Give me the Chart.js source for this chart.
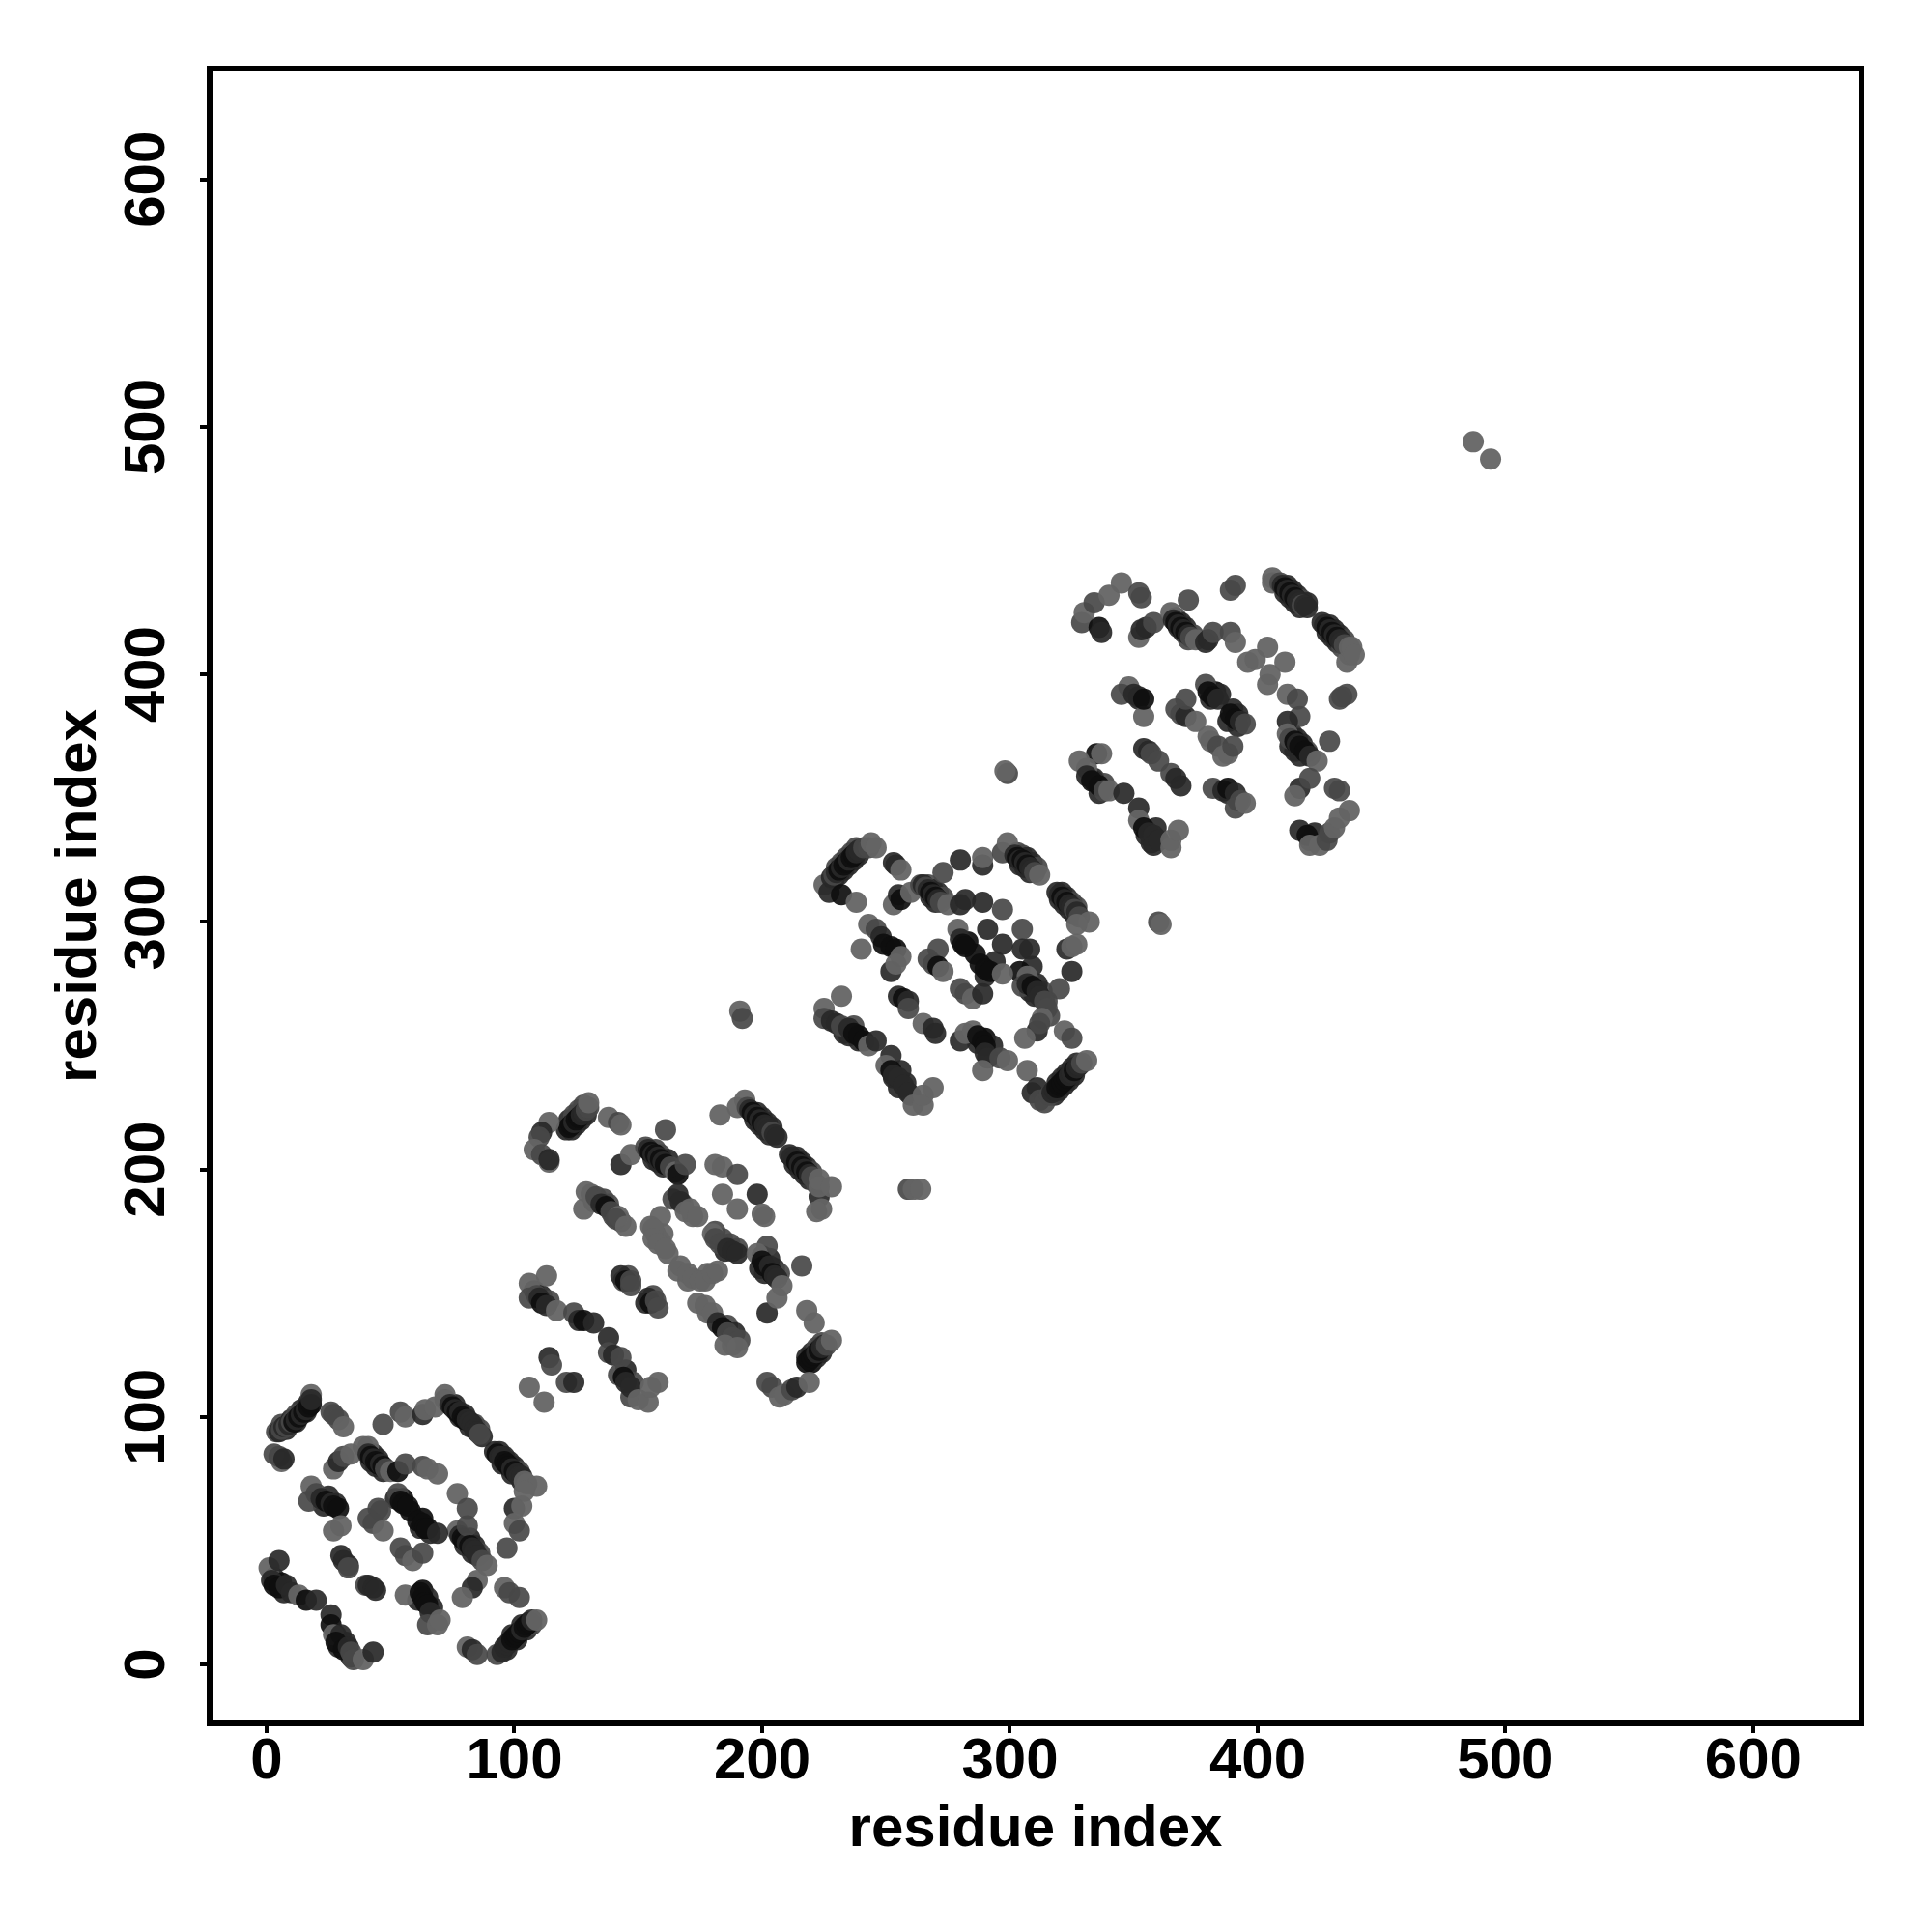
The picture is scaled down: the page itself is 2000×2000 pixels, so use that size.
<!DOCTYPE html>
<html>
<head>
<meta charset="utf-8">
<script src="https://cdn.jsdelivr.net/npm/chart.js@4"></script>
<style>
body { margin: 0; background: #fff; }
canvas { display: block; }
</style>
</head>
<body>
<canvas id="grafico" width="2000" height="2000"></canvas>
<script>
var tickValues = [0, 100, 200, 300, 400, 500, 600];
var axisLabel = "residue index";

// each contact: [residue i, residue j, shade] (0 = darkest, 3 = lightest), in drawing order
var block1 = [
  [18,109,3],[4,94,2],[5,94,1],[6,95,2],[7,96,1],[8,96,2],[9,97,1],[10,98,2],[11,98,0],[12,99,1],[13,100,0],[14,101,1],[15,102,0],[16,103,1],[17,104,0],[18,105,0],[18,107,1],
  [26,102,2],[27,101,2],[29,99,2],[31,96,3],[3,85,2],[6,82,3],[5,84,2],[7,83,1],[47,97,2],[54,102,2],[56,100,3],
  [63,101,1],[64,103,3],[68,104,3],[72,109,3],[72,107,3],[74,105,1],[75,104,0],[76,103,1],[77,102,0],[78,102,1],[79,100,0],[80,99,0],[81,99,1],[82,98,1],[83,97,1],[84,95,1],[85,94,1],[86,93,2],
  [92,86,1],[93,85,0],[94,84,1],[95,84,1],[96,82,0],[97,81,0],[98,80,0],[99,79,1],[100,78,0],[101,77,1],[102,76,1],[103,76,1],[104,74,3],[105,73,3],[109,72,3],[104,70,3],[100,63,1],[103,64,3],[100,57,3],[102,54,2],[97,47,2],
  [27,79,3],[29,82,1],[31,84,2],[34,85,3],[39,88,3],[41,88,3],[41,85,1],[42,84,0],[43,83,1],[44,82,0],[45,81,0],[46,81,1],[47,80,0],[48,79,2],[50,78,3],[53,78,0],[56,81,2],[63,80,2],[65,79,3],[69,77,3],
  [77,69,3],[81,63,2],[77,54,3],[78,52,1],[79,51,0],[80,50,0],[81,49,1],[81,56,2],[82,48,0],[83,47,1],[84,46,1],[85,44,1],[87,42,2],[89,40,3],[85,34,3],[83,31,1],[79,27,3],[96,31,3],[98,29,2],[102,27,2],
  [93,4,2],[95,5,1],[96,7,1],[97,8,1],[98,9,1],[99,10,0],[100,11,0],[101,12,0],[102,13,0],[103,14,1],[104,15,0],[105,16,0],[106,17,0],[107,18,1],[109,18,3],[81,7,3],[83,6,1],[85,4,2],
  [18,72,3],[17,66,2],[20,69,2],[22,67,1],[24,66,0],[26,65,1],[27,64,0],[29,63,0],[27,54,3],[30,56,3],
  [41,59,2],[45,63,2],[46,62,2],[43,57,2],[47,54,3],[53,69,2],[54,66,0],[55,65,0],[57,64,0],[61,58,0],[63,57,0],[64,55,0],[65,55,0],[69,53,1],[54,47,2],[56,44,2],[59,42,3],[63,45,2],
  [1,39,3],[5,42,1],[2,34,1],[3,32,0],[5,31,0],[8,32,1],[10,29,1],[13,28,3],[16,26,0],[20,26,1],
  [26,20,1],[26,16,0],[27,12,3],[30,12,1],[28,9,0],[31,6,0],[33,7,1],[34,5,2],[35,2,2],[39,2,3],[43,5,1],
  [30,44,1],[31,42,1],[33,40,1],[33,39,2],[40,32,2],[41,32,1],[43,31,1],[44,30,1],[56,28,3],[62,29,0],[63,27,0],[64,25,0],[65,24,0],[66,21,1],[65,16,2],[69,16,3],[70,18,3]
];

var block2 = [
  [121,216,1],[122,217,0],[123,218,0],[124,219,1],[125,220,0],[126,221,0],[127,222,1],[128,223,1],[129,224,2],[130,225,2],[130,227,3],
  [114,219,3],[111,215,1],[110,213,2],[108,208,3],[111,206,2],[114,203,3],[114,204,1],[138,221,3],[142,219,2],[143,218,3],[161,216,2],
  [143,202,1],[147,206,3],[153,209,2],[154,208,1],[155,207,0],[156,206,1],[157,206,0],[158,205,1],[159,204,0],[160,203,1],[161,202,0],[163,201,2],[165,199,3],[166,198,0],[169,202,2],
  [181,202,3],[184,201,3],[190,198,2],[184,190,3],[198,190,1],[190,184,3],[200,182,3],[201,181,3],
  [183,222,3],[190,225,3],[193,228,3],[194,225,2],[195,224,1],[196,223,0],[197,222,1],[198,221,0],[199,220,1],[200,219,0],[201,218,1],[202,217,1],[203,216,1],[204,215,2],[205,214,1],[206,213,1],
  [211,206,1],[212,205,1],[213,204,1],[214,203,0],[215,202,1],[216,201,0],[217,200,1],[218,199,0],[219,198,1],[220,197,2],[223,189,1],[223,196,3],[223,193,3],[228,193,3],[222,183,3],[224,184,3],
  [129,191,3],[128,184,3],[131,190,3],[133,189,2],[135,186,1],[137,185,0],[139,183,2],[142,181,3],[141,180,2],[145,177,3],
  [166,190,1],[167,187,1],[169,183,3],[171,184,3],[174,181,3],[159,181,3],[156,176,3],[156,172,3],[158,170,3],[161,168,3],
  [180,174,3],[181,172,2],[183,170,2],[186,168,1],[188,167,1],[190,166,1],[167,161,3],[170,158,3],[172,156,3],[175,155,3],[177,155,3],[180,158,3],[182,159,3],
  [202,169,2],[198,166,3],[199,160,1],[200,163,0],[201,161,0],[203,161,1],[204,158,0],[205,157,1],[206,156,1],[208,153,3],[216,161,2],[202,142,1],[206,148,3],[218,143,3],[221,138,3],
  [218,122,0],[219,123,0],[220,124,0],[221,125,0],[222,126,1],[223,127,0],[224,128,1],[225,129,1],[226,129,2],[228,131,3],
  [202,114,2],[204,112,2],[207,108,3],[209,109,3],[212,111,2],[214,112,1],[219,114,3],
  [143,157,1],[145,155,0],[147,155,2],[147,153,2],[154,148,1],[155,146,0],[157,147,2],[158,144,2],
  [174,146,3],[177,145,3],[180,142,3],[182,138,1],[184,136,0],[186,134,2],[188,132,2],[191,131,2],[185,129,3],[190,128,3],
  [106,154,3],[106,148,2],[113,157,3],[109,149,2],[110,148,1],[111,146,0],[113,145,1],[117,143,3],[124,142,2],[126,139,1],[128,139,0],[132,138,1],
  [138,132,1],[138,126,2],[140,125,1],[143,124,2],[142,117,2],[144,116,0],[145,114,1],[147,112,1],[150,107,3],[154,106,3],[155,112,3],[158,114,3],
  [114,124,1],[115,121,2],[121,114,2],[124,114,1],[106,112,3],[112,106,3]
];

var block3 = [
  [225,315,3],[227,312,1],[228,318,1],[229,319,2],[230,320,1],[231,321,0],[232,311,0],[232,322,1],[233,323,0],[234,324,0],[235,325,1],[236,326,0],[237,327,0],[238,328,1],[239,329,1],[238,308,3],[241,330,2],[243,330,2],[244,332,3],[246,330,3],
  [253,324,1],[254,323,1],[256,321,3],[273,320,2],[280,325,1],[289,323,1],[289,326,3],[297,328,2],[299,332,3],
  [302,327,1],[303,326,0],[304,325,1],[305,325,0],[306,324,1],[307,323,0],[308,322,1],[309,321,1],[310,320,2],[312,319,3],
  [319,312,1],[320,311,1],[321,310,0],[322,309,1],[323,308,0],[324,307,1],[325,306,1],[326,305,2],[327,304,1],[328,302,2],[332,300,3],[327,299,3],[323,289,1],[325,290,3],[327,291,3],[325,280,1],[320,273,2],
  [253,307,3],[255,311,1],[256,309,0],[260,312,3],[264,315,2],[265,315,1],[266,314,2],[267,313,1],[268,312,0],[269,311,1],[270,310,0],[271,309,1],[272,308,2],[275,307,3],[280,307,1],[282,309,1],
  [289,308,1],[297,305,2],[291,297,1],[297,291,1],[305,297,2],[305,289,1],[308,289,1],[309,282,1],[304,280,0],
  [279,297,3],[280,293,1],[281,291,0],[282,290,0],[288,283,0],[290,281,0],[292,280,0],[297,279,3],
  [271,289,2],[267,285,2],[269,283,2],[271,282,0],[273,280,3],[280,273,2],[282,271,2],[285,269,3],[289,271,1],
  [307,278,3],[305,274,2],[307,275,1],[309,274,0],[311,272,1],[312,270,1],[314,268,2],[315,265,2],[313,261,3],[311,256,1],[306,253,3],[312,259,2],[322,256,3],[325,253,2],
  [243,299,3],[246,297,2],[248,294,1],[249,291,0],[252,290,0],[254,289,0],[240,289,3],[256,286,3],[252,280,1],[254,283,3],
  [255,270,1],[257,269,0],[259,268,1],[259,265,2],[265,259,3],[269,257,1],[270,255,1],
  [232,270,3],[225,265,3],[225,261,2],[228,260,1],[230,259,1],[232,258,2],[235,257,1],[237,255,0],[239,254,0],[241,252,0],[243,250,3],[246,252,1],
  [252,246,1],[250,242,3],[252,240,0],[253,238,1],[255,237,1],[257,234,1],[259,231,1],[261,226,3],[265,226,3],[265,230,3],[269,233,3],
  [280,252,1],[282,255,3],[285,256,3],[287,254,0],[289,252,0],[290,250,0],[290,247,1],[291,245,1],[296,245,2],[299,244,3],[289,240,3],
  [307,240,3],[309,231,1],[311,233,1],[314,227,2],[312,228,2],[316,230,2],[317,231,1],[318,232,1],[319,233,0],[320,234,0],[321,235,0],[322,236,0],[323,237,0],[324,238,1],[325,239,1],[326,240,0],[327,241,1],[328,242,1],[329,243,2],[331,244,3]
];

var block4 = [
  [329,421,2],[330,425,3],[334,429,2],[336,419,0],[337,417,1],[340,432,3],[345,437,3],[352,433,2],[353,431,2],[372,430,2],[391,436,2],[389,434,2],
  [406,439,3],[406,437,3],[409,437,2],[410,436,1],[411,435,0],[412,434,1],[413,433,0],[414,432,1],[415,431,0],[416,430,1],[417,429,1],[418,428,2],[419,428,1],[420,427,1],
  [426,421,1],[427,420,1],[428,419,0],[429,418,1],[430,417,0],[431,416,1],[432,415,0],[433,414,1],[434,413,1],[435,412,2],[436,405,3],[437,411,3],[438,411,3],[439,408,3],
  [352,415,3],[353,418,1],[355,419,1],[358,421,2],[365,425,3],[366,422,1],[367,421,0],[368,420,1],[369,419,0],[370,418,1],[371,417,0],[372,416,1],[373,415,2],[375,414,3],[379,413,1],[380,414,1],[382,417,2],[389,417,2],[391,413,3],
  [396,405,3],[399,406,3],[404,411,3],[411,405,3],[404,396,3],[405,400,3],
  [348,395,3],[345,392,2],[350,392,1],[352,391,1],[354,383,3],[354,390,0],[367,386,2],[369,384,2],[371,383,1],[371,390,2],[375,381,3],
  [379,396,2],[380,393,0],[382,391,0],[384,390,1],[389,384,0],[391,382,0],[393,381,1],[395,380,2],
  [412,392,3],[416,390,2],[417,383,2],[412,381,1],[412,376,3],[413,374,2],[415,373,0],[416,372,1],[417,371,0],[419,369,0],[421,367,1],[424,365,3],[429,373,2],[433,390,2],[436,392,2],[434,391,2],
  [380,375,3],[381,373,3],[384,371,2],[386,367,3],[388,368,3],[390,371,2],
  [417,354,1],[421,358,2],[415,351,3],[431,354,2],[433,353,2],
  [354,370,1],[356,369,1],[357,368,2],[360,365,2],[365,360,2],[367,358,1],[369,355,1],
  [335,368,0],[337,368,3],[328,365,3],[331,362,3],[331,359,1],[333,357,0],[336,355,0],[338,353,2],[340,353,3],[346,352,1],
  [352,346,1],[352,341,3],[354,338,0],[356,336,1],[358,335,1],[358,331,1],[360,333,1],[365,330,3],[365,333,3],[368,337,3],
  [382,354,2],[386,353,1],[388,354,0],[391,352,1],[391,346,2],[393,349,2],[395,348,3],
  [417,337,1],[420,335,0],[421,331,3],[425,331,3],[428,333,2],[429,336,2],[431,338,3],[433,342,3],[437,345,3]
];

var isolated = [
  [299,360,2],[298,361,3],[360,300,2],[361,299,3],[191,264,3],[192,261,2],[259,192,2],[261,192,3],[264,192,3],[487,494,3],[494,487,3]
];

// contacts that sit beside the main strands and show only at their edges
var strandEdges = [
  [6,97,2],[8,95,1],[10,99,1],[12,98,1],[14,103,1],[16,102,1],[12,101,2],[17,106,1],
  [76,105,1],[78,100,1],[80,101,1],[82,96,1],[84,97,2],[86,95,2],[87,92,1],
  [94,86,1],[96,84,1],[95,81,1],[98,82,1],[100,80,1],[99,77,1],[102,78,2],[103,74,1],
  [43,85,1],[42,82,1],[45,83,1],[47,78,1],[44,80,1],
  [97,6,1],[99,12,1],[101,10,1],[103,16,1],[105,14,1],[107,16,2],
  [80,48,1],[82,51,1],[84,48,1],[83,45,1],[86,45,2],
  [25,68,1],[28,65,1],[23,64,1],[63,59,0],[66,53,1],[62,55,1],[55,67,0],[58,62,0],[52,67,1],
  [63,30,0],[65,27,1],[61,26,1],[67,23,1],[3,35,1],[7,29,1],[6,33,0],[28,12,1],[32,9,1],[29,7,1],[34,3,1],
  [123,216,1],[125,218,1],[127,220,1],[129,222,1],[122,220,1],[124,222,2],[126,224,2],[128,226,2],
  [197,220,1],[199,218,1],[201,216,1],[203,214,1],[198,223,1],[200,221,1],[202,219,1],[204,217,1],
  [213,202,1],[215,200,1],[217,198,1],[219,196,1],[214,205,1],[216,203,1],[218,201,1],[220,199,2],[222,194,2],
  [156,204,1],[158,203,1],[160,201,1],[157,208,2],[159,206,2],[162,204,1],
  [218,124,1],[220,122,0],[222,124,1],[224,126,1],[220,126,1],[222,128,2],[224,130,2],
  [155,177,3],[157,174,3],[160,174,3],[159,171,3],[162,166,3],[170,155,3],[166,159,3],[178,158,3],[168,186,3],[172,181,3],[164,188,2],
  [136,188,2],[138,186,2],[140,181,2],[143,179,2],[132,187,2],
  [181,175,2],[184,172,2],[187,170,2],[190,168,2],[185,167,1],
  [200,165,1],[203,164,1],[205,160,1],[207,158,2],[201,158,1],
  [144,155,2],[146,157,2],[156,149,2],[153,146,1],[145,119,1],[148,114,2],[147,108,2],[108,151,2],[111,149,1],[114,147,2],[178,142,3],[186,137,2],[189,134,1],[188,129,3],
  [229,317,1],[231,319,1],[233,321,1],[235,323,1],[237,325,1],[239,327,1],[230,322,2],[232,324,2],[234,326,2],[236,328,2],[238,330,2],
  [304,323,1],[306,322,1],[308,320,1],[303,328,2],[305,327,2],[307,326,1],[309,324,1],[311,322,2],
  [320,309,1],[322,307,1],[324,305,1],[326,303,1],[321,312,1],[323,310,1],[325,308,2],[327,306,2],
  [268,310,1],[270,308,1],[267,315,2],[269,313,1],[271,312,1],[273,310,2],
  [318,230,1],[320,232,1],[322,234,1],[324,236,1],[326,238,1],[319,235,1],[321,237,1],[323,239,1],[325,241,1],[327,243,1],
  [239,252,1],[237,258,2],[233,255,1],[235,254,1],[253,237,1],[256,240,1],[258,235,1],[255,233,1],[260,230,1],
  [290,253,0],[287,251,1],[293,250,1],[283,292,0],[286,287,0],[290,278,1],[294,284,1],
  [310,270,1],[313,272,2],[308,272,1],[315,268,2],[316,262,2],[311,275,1],
  [411,433,1],[413,431,1],[415,429,1],[417,427,1],[412,436,1],[414,434,1],[416,432,1],[418,430,2],[420,429,1],
  [428,417,1],[430,415,1],[432,413,1],[434,411,2],[429,420,1],[431,418,1],[433,416,1],[435,414,2],[437,408,3],
  [368,419,1],[370,417,1],[372,414,2],[367,423,2],[369,421,1],[371,419,1],[374,416,2],
  [413,371,1],[415,369,1],[417,367,1],[414,376,1],[416,374,1],[418,372,1],[420,369,2],
  [383,393,0],[385,392,1],[381,390,1],[390,386,1],[392,384,1],[388,381,1],[392,379,1],
  [334,358,1],[336,352,1],[338,356,2],[355,335,1],[359,338,1],[357,332,1],[334,357,1],[352,390,1],[388,352,1],[392,349,2],[421,333,2],[423,336,1]
];

var shades = ["rgba(14,14,14,0.92)", "rgba(40,40,40,0.92)", "rgba(72,72,72,0.92)", "rgba(100,100,100,0.95)"];
// o primeiro dataset fica por cima no Chart.js
var blocks = [isolated, block4, block3, block2, block1, strandEdges];

var fonteBold = { family: "'Liberation Sans'", weight: "bold", size: 60 };

function montaDataset(lista, i) {
  return {
    label: "block " + (i + 1),
    data: lista.map(function (p) { return { x: p[0], y: p[1], shade: p[2] }; }),
    pointRadius: 11,
    pointBorderWidth: 0,
    pointBackgroundColor: function (ctx) { return ctx.raw ? shades[ctx.raw.shade] : shades[2]; }
  };
}

// moldura completa em volta da area do grafico
var moldura = {
  id: "moldura",
  afterDraw: function (chart) {
    var a = chart.chartArea, c = chart.ctx;
    c.save();
    c.strokeStyle = "#000";
    c.lineWidth = 6;
    c.lineJoin = "miter";
    c.strokeRect(a.left, a.top, a.right - a.left, a.bottom - a.top);
    c.restore();
  }
};

var eixoGrid = { drawOnChartArea: false, color: "#000", lineWidth: 4, tickLength: 10 };

new Chart(document.getElementById("grafico").getContext("2d"), {
  type: "scatter",
  data: { datasets: blocks.map(montaDataset) },
  plugins: [moldura],
  options: {
    responsive: false,
    animation: false,
    events: [],
    layout: { padding: { top: 71, right: 73, left: 0, bottom: 70 } },
    plugins: { legend: { display: false }, tooltip: { enabled: false } },
    scales: {
      x: {
        min: -23, max: 643.7,
        afterBuildTicks: function (s) { s.ticks = tickValues.map(function (v) { return { value: v }; }); },
        afterFit: function (s) { s.height = 146; },
        grid: eixoGrid,
        border: { display: false },
        ticks: { color: "#000", font: fonteBold, padding: -6, autoSkip: false, maxRotation: 0, minRotation: 0 },
        title: { display: true, text: axisLabel, color: "#000", font: fonteBold, padding: { top: 0, bottom: 0 } }
      },
      y: {
        min: -23.8, max: 644.8,
        afterBuildTicks: function (s) { s.ticks = tickValues.map(function (v) { return { value: v }; }); },
        afterFit: function (s) { s.width = 217; },
        grid: eixoGrid,
        border: { display: false },
        ticks: { color: "#000", font: fonteBold, padding: 3, autoSkip: false, minRotation: 90, maxRotation: 90, crossAlign: "center" },
        title: { display: true, text: axisLabel, color: "#000", font: fonteBold, padding: { top: 46, bottom: 0 } }
      }
    }
  }
});
</script>
</body>
</html>
